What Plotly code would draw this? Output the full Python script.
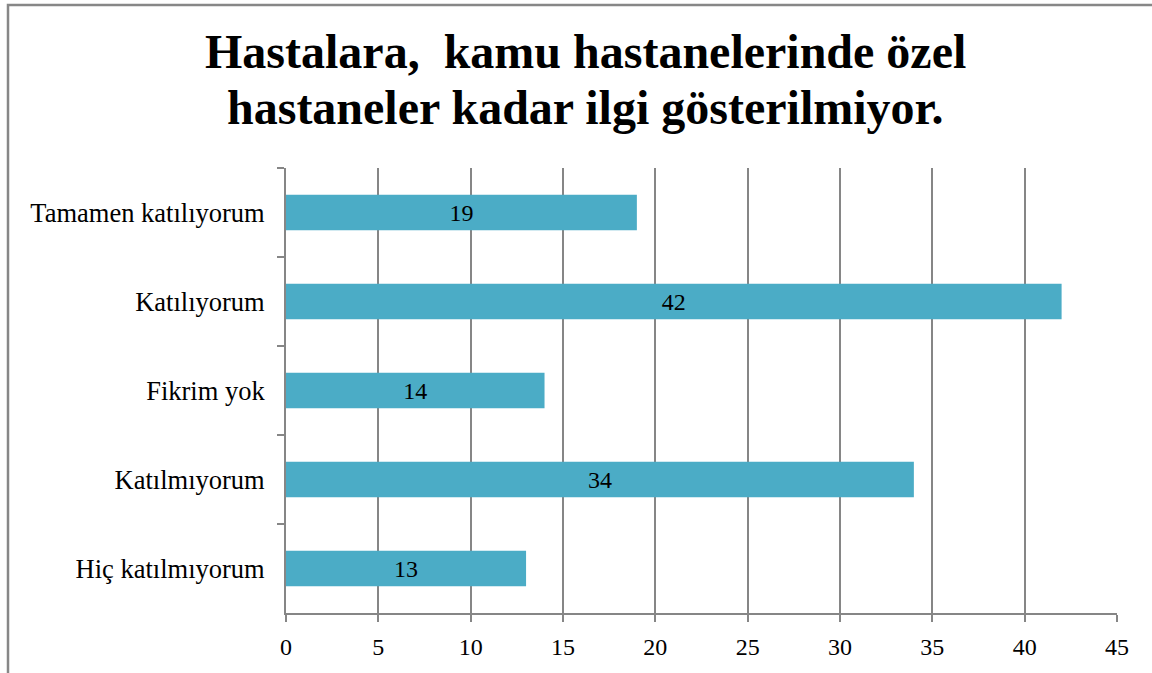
import plotly.graph_objects as go

categories = ["Tamamen katılıyorum", "Katılıyorum", "Fikrim yok", "Katılmıyorum", "Hiç katılmıyorum"]
values = [19, 42, 14, 34, 13]
title_lines = ["Hastalara,\u00a0 kamu hastanelerinde özel", "hastaneler kadar ilgi gösterilmiyor."]

W, H = 1152, 673
L, R, T, B = 286, 35, 168, 60
pw, ph = W - L - R, H - T - B

GRID = "#868686"
FONT = "Liberation Serif"

fig = go.Figure(go.Bar(
    x=values, y=categories, orientation="h",
    marker=dict(color="#4BACC6", line=dict(width=0)),
    width=0.4,
    text=[str(v) for v in values],
    textposition="inside", insidetextanchor="middle", textangle=0,
    constraintext="none",
    insidetextfont=dict(family=FONT, size=24, color="black"),
    textfont=dict(family=FONT, size=24, color="black"),
    hoverinfo="skip",
))

def px_x(p):
    return (p - L) / pw

def px_y(p):
    return (H - B - p) / ph

annotations = []
for i, (line, base) in enumerate(zip(title_lines, [68, 124])):
    annotations.append(dict(
        text="<b>" + line + "</b>", xref="paper", yref="paper",
        x=px_x(585), y=px_y(base - 16), xanchor="center", yanchor="middle",
        showarrow=False, font=dict(family=FONT, size=48, color="black")))

fig.update_layout(
    width=W, height=H,
    margin=dict(l=L, r=R, t=T, b=B, pad=0),
    paper_bgcolor="white", plot_bgcolor="white",
    font=dict(family=FONT, size=24, color="black"),
    showlegend=False,
    annotations=annotations,
    xaxis=dict(range=[0, 45], dtick=5, tick0=0, showgrid=True, gridcolor=GRID, gridwidth=1.5,
               showline=True, linecolor=GRID, linewidth=2, ticks="outside", ticklen=7,
               tickcolor=GRID, tickwidth=2, zeroline=False, ticklabelstandoff=4,
               tickfont=dict(family=FONT, size=24, color="black")),
    yaxis=dict(autorange="reversed", showgrid=False, showline=True, linecolor=GRID, linewidth=2,
               ticks="outside", ticklen=7, tickcolor=GRID, tickwidth=2, tickson="boundaries",
               ticklabelstandoff=14,
               tickfont=dict(family=FONT, size=26.5, color="black")),
    shapes=[dict(type="path", xref="paper", yref="paper",
                 path=f"M {px_x(8)},{px_y(H + 20)} L {px_x(8)},{px_y(5)} L {px_x(W + 20)},{px_y(5)}",
                 line=dict(color="#878787", width=2.5))],
)

fig.write_html("out.html", config={"displayModeBar": False},
               post_script="document.body.style.margin='0';")
